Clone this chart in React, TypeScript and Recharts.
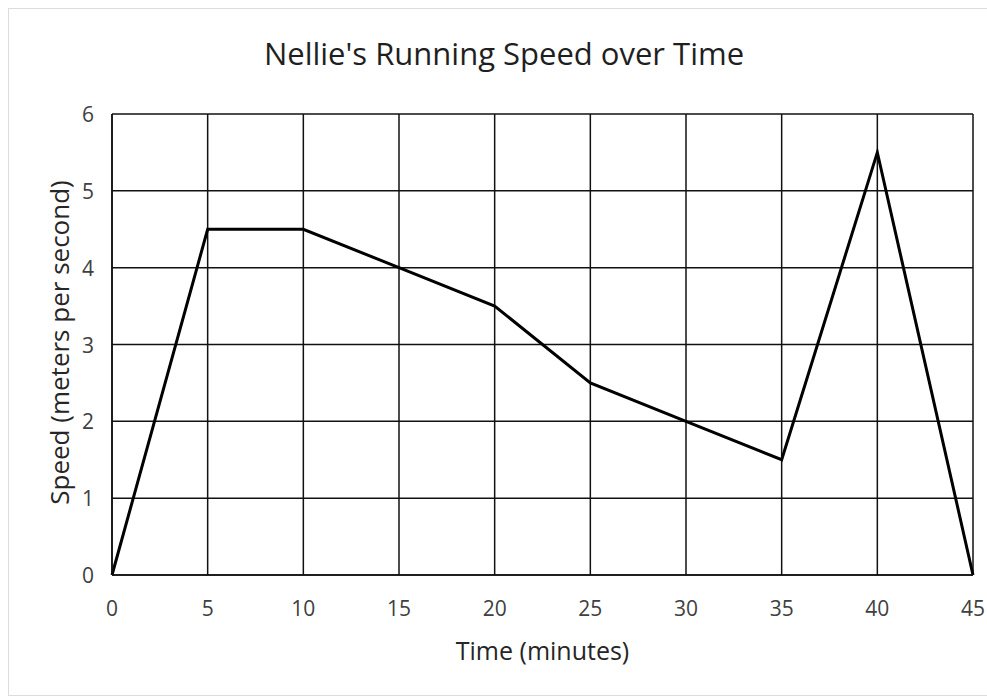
import React from 'react';
import { LineChart, Line, XAxis, YAxis, CartesianGrid, Label } from 'recharts';

const minutes = [0, 5, 10, 15, 20, 25, 30, 35, 40, 45];
const speed = [0, 4.5, 4.5, 4, 3.5, 2.5, 2, 1.5, 5.5, 0];
const xTicks = [0, 5, 10, 15, 20, 25, 30, 35, 40, 45];
const yTicks = [0, 1, 2, 3, 4, 5, 6];

const data = minutes.map((m, i) => ({ minutes: m, speed: speed[i] }));

const FONT = '"Open Sans", "Noto Sans", sans-serif';

const XTick = ({ x, y, payload }: any) => (
  <text x={x} y={y + 39} textAnchor="middle" fill="#404040" fontSize={21} fontFamily={FONT}>
    {payload.value}
  </text>
);

const YTick = ({ x, y, payload }: any) => (
  <text x={x - 16} y={y + 8} textAnchor="end" fill="#404040" fontSize={21} fontFamily={FONT}>
    {payload.value}
  </text>
);

export default function App() {
  return (
    <div
      style={{
        width: 987,
        height: 698,
        boxSizing: 'border-box',
        padding: '8px 0 0 8px',
        background: '#fff',
        overflow: 'hidden',
      }}
    >
      <style>{'body { margin: 0; }'}</style>
      <div
        style={{
          position: 'relative',
          width: 979,
          height: 686,
          borderTop: '1px solid #dcdcdc',
          borderLeft: '1px solid #dcdcdc',
          borderBottom: '1px solid #dcdcdc',
          fontFamily: FONT,
          background: '#fff',
        }}
      >
        <div
          style={{
            position: 'absolute',
            top: 23,
            left: 0,
            width: 990,
            textAlign: 'center',
            fontSize: 31,
            color: '#1f1f1f',
          }}
        >
          Nellie's Running Speed over Time
        </div>
        <LineChart
          width={979}
          height={686}
          data={data}
          margin={{ top: 105, right: 15, bottom: 80, left: 43 }}
        >
          <CartesianGrid stroke="#111" strokeWidth={1.5} horizontal vertical />
          <XAxis
            dataKey="minutes"
            type="number"
            domain={[0, 45]}
            ticks={xTicks}
            interval={0}
            height={40}
            axisLine={{ stroke: '#111', strokeWidth: 1.5 }}
            tickLine={false}
            tickSize={0}
            tick={<XTick />}
          >
            <Label
              content={({ viewBox }: any) => (
                <text
                  x={viewBox.x + viewBox.width / 2}
                  y={651}
                  textAnchor="middle"
                  fill="#262626"
                  fontSize={25}
                  fontFamily={FONT}
                >
                  Time (minutes)
                </text>
              )}
            />
          </XAxis>
          <YAxis
            type="number"
            domain={[0, 6]}
            ticks={yTicks}
            interval={0}
            width={60}
            axisLine={{ stroke: '#111', strokeWidth: 1.5 }}
            tickLine={false}
            tickSize={0}
            tick={<YTick />}
          >
            <Label
              content={({ viewBox }: any) => {
                const cx = 50;
                const cy = viewBox.y + viewBox.height / 2 - 2;
                return (
                  <text
                    x={cx}
                    y={cy}
                    transform={`rotate(-90, ${cx}, ${cy})`}
                    textAnchor="middle"
                    dominantBaseline="central"
                    fill="#262626"
                    fontSize={26}
                    fontFamily={FONT}
                  >
                    Speed (meters per second)
                  </text>
                );
              }}
            />
          </YAxis>
          <Line
            type="linear"
            dataKey="speed"
            stroke="#000"
            strokeWidth={3}
            dot={false}
            isAnimationActive={false}
          />
        </LineChart>
      </div>
    </div>
  );
}
